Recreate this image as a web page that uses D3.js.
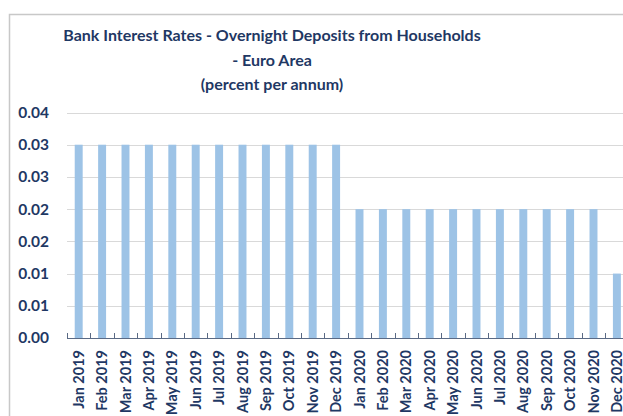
<!DOCTYPE html>
<html><head><meta charset="utf-8">
<script src="https://cdn.jsdelivr.net/npm/d3@7"></script>
<style>body{margin:0;background:#fff;}svg{display:block;}</style>
</head><body>
<script>
const months = ["Jan 2019","Feb 2019","Mar 2019","Apr 2019","May 2019","Jun 2019","Jul 2019","Aug 2019","Sep 2019","Oct 2019","Nov 2019","Dec 2019",
"Jan 2020","Feb 2020","Mar 2020","Apr 2020","May 2020","Jun 2020","Jul 2020","Aug 2020","Sep 2020","Oct 2020","Nov 2020","Dec 2020"];
const rates = [0.03,0.03,0.03,0.03,0.03,0.03,0.03,0.03,0.03,0.03,0.03,0.03,
0.02,0.02,0.02,0.02,0.02,0.02,0.02,0.02,0.02,0.02,0.02,0.01];
const yTicks = [0,0.005,0.01,0.015,0.02,0.025,0.03,0.035];
const yTickLabels = ["0.00","0.01","0.01","0.02","0.02","0.03","0.03","0.04"];
const titleLines = ["Bank Interest Rates - Overnight Deposits from Households","- Euro Area","(percent per annum)"];

const W=623,H=416;
const navy="#1F3864";
const svg=d3.select("body").append("svg").attr("width",W).attr("height",H);
svg.append("rect").attr("width",W).attr("height",H).attr("fill","#fff");
// chart border
svg.append("path").attr("d","M9.5,"+H+"V14.5H"+W).attr("fill","none").attr("stroke","#c8c8c8").attr("stroke-width",1.5);

const m={left:67,top:112.5,bottom:338};
const x=d3.scaleBand().domain(months).range([m.left,m.left+24*23.4]).paddingInner(0.66).paddingOuter(0.33);
const y=d3.scaleLinear().domain([0,0.035]).range([m.bottom,m.top]);

// gridlines
svg.append("g").selectAll("line").data(yTicks.slice(1)).join("line")
 .attr("x1",m.left).attr("x2",W).attr("y1",d=>Math.round(y(d))+0.5).attr("y2",d=>Math.round(y(d))+0.5)
 .attr("stroke","#d9d9d9").attr("stroke-width",1);

// bars
svg.append("g").selectAll("rect").data(rates).join("rect")
 .attr("x",(d,i)=>x(months[i])).attr("width",x.bandwidth())
 .attr("y",d=>y(d)).attr("height",d=>y(0)-y(d)).attr("fill","#9DC3E6");

// y labels
svg.append("g").selectAll("text").data(yTicks).join("text")
 .attr("x",49).attr("y",d=>y(d)).attr("dy","0.35em").attr("text-anchor","end")
 .attr("font-family","Lato, sans-serif").attr("font-weight","bold").attr("font-size",15.5).attr("fill",navy)
 .text((d,i)=>yTickLabels[i]);

// x axis
const xAxis=d3.axisBottom(x).tickSize(0).tickFormat(d=>d);
const gx=svg.append("g").attr("transform",`translate(0,${m.bottom})`).call(xAxis);
gx.select(".domain").attr("d",`M${m.left},0.5H${W}`).attr("stroke","#5a6a85").attr("stroke-width",1.2);
gx.selectAll(".tick text").attr("transform","rotate(-90)").attr("text-anchor","end")
 .attr("x",-12).attr("y",0).attr("dy","0.35em")
 .attr("font-family","Lato, sans-serif").attr("font-weight","bold").attr("font-size",14.5).attr("fill",navy);
// band boundary tick marks (inward)
const step=x.step();
svg.append("g").selectAll("line").data(d3.range(months.length+1)).join("line")
 .attr("x1",i=>Math.round(m.left+i*step)+0.5).attr("x2",i=>Math.round(m.left+i*step)+0.5)
 .attr("y1",m.bottom).attr("y2",m.bottom-5).attr("stroke","#5a6a85").attr("stroke-width",1);

// title
svg.append("g").selectAll("text").data(titleLines).join("text")
 .attr("x",272).attr("y",(d,i)=>41+i*24.5).attr("text-anchor","middle")
 .attr("font-family","Lato, sans-serif").attr("font-weight","bold").attr("font-size",16).attr("fill",navy)
 .text(d=>d);
</script>
</body></html>
